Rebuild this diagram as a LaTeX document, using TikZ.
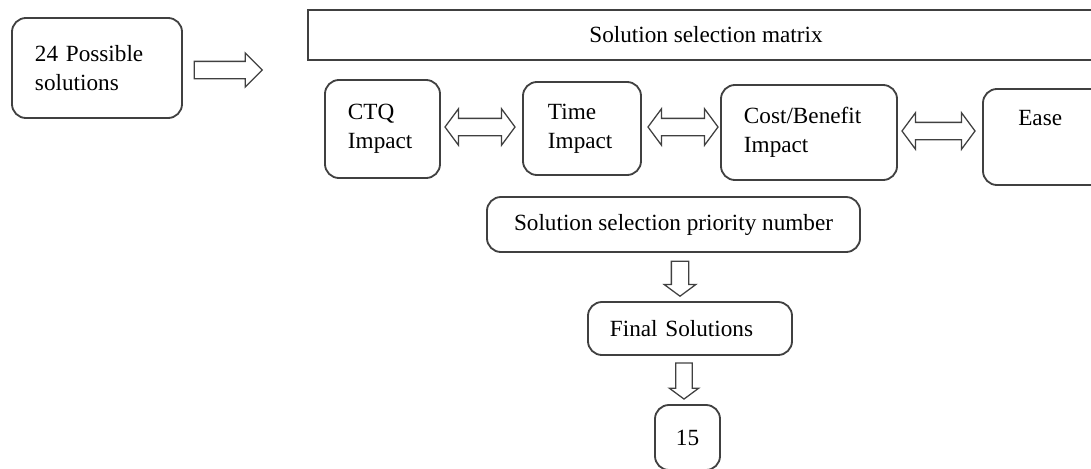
\documentclass[tikz,border=0pt]{standalone}
\usepackage{fontspec}
\setmainfont{Liberation Serif}
\usetikzlibrary{shapes.arrows,positioning}

\begin{document}
\begin{tikzpicture}[x=0.025cm, y=-0.025cm,
  box/.style={draw=black!75, line width=1.3pt, rounded corners=0.35cm, align=left,
    inner ysep=0pt, font=\fontsize{16.5}{20.5}\selectfont},
  flatbox/.style={box, rounded corners=0pt, align=center},
  label text/.style={inner sep=0pt, font=\fontsize{16.5}{20.5}\selectfont},
  rarrow/.style={single arrow, draw=black!75, line width=0.9pt, inner sep=0pt,
    single arrow head extend=0.21cm},
  darrow/.style={rarrow, shape border rotate=270, single arrow tip angle=107,
    single arrow head extend=0.18cm},
  twoway/.style={double arrow, draw=black!75, line width=0.9pt, inner sep=0pt,
    double arrow head extend=0.24cm, double arrow tip angle=107}]
% Fix the page to the reference size (pixels)
\useasboundingbox (0,0) rectangle (1091,468);

% Input
\node[box, minimum width=4.25cm, minimum height=2.5cm, text width=3.1cm, inner xsep=0.575cm] (poss) at (97,68) {24 Possible\\solutions};
\node[rarrow, minimum height=1.7cm, text height=0.4cm] (into) at (224,70) {};

% Selection matrix and its criteria
\node[flatbox, minimum width=19.9cm, minimum height=1.25cm] (matrix) at (706,35) {Solution selection matrix};
\node[box, minimum width=2.875cm, minimum height=2.45cm, text width=1.725cm, inner xsep=0.575cm] (ctq) at (382.5,129) {CTQ\\Impact};
\node[box, minimum width=2.95cm, minimum height=2.325cm, text width=1.7cm, inner xsep=0.625cm] (time) at (582,128.5) {Time\\Impact};
\node[box, minimum width=4.4cm, minimum height=2.375cm, text width=3.25cm, inner xsep=0.575cm] (cost) at (809,132.5) {Cost/Benefit\\Impact};
\node[box, minimum width=3.1cm, minimum height=2.4cm] (ease) at (1045,137) {};
\node[label text, below=0.55cm of ease.north, xshift=-0.12cm] (easetxt) {Ease};

% Two-way links between criteria
\node[twoway, minimum height=1.75cm, text height=0.4cm] (ctqtime) at (480,127) {};
\node[twoway, minimum height=1.75cm, text height=0.4cm] (timecost) at (683,127) {};
\node[twoway, minimum height=1.825cm, text height=0.4cm] (costease) at (938.5,131) {};

% Priority and result
\node[flatbox, rounded corners=0.35cm, minimum width=9.325cm, minimum height=1.375cm] (prio) at (673.5,224.5) {Solution selection priority number};
\node[darrow, minimum height=0.875cm, text width=0.4cm] (down1) at (680,275.5) {};
\node[box, minimum width=5.1cm, minimum height=1.325cm, text width=4.0cm, inner xsep=0.55cm] (final) at (690,328.5) {Final Solutions};
\node[darrow, minimum height=0.9cm, text width=0.38cm, single arrow head extend=0.16cm] (down2) at (684,378) {};
\node[box, align=center, minimum width=1.625cm, minimum height=1.625cm] (count) at (687.5,437.5) {15};
\end{tikzpicture}
\end{document}
